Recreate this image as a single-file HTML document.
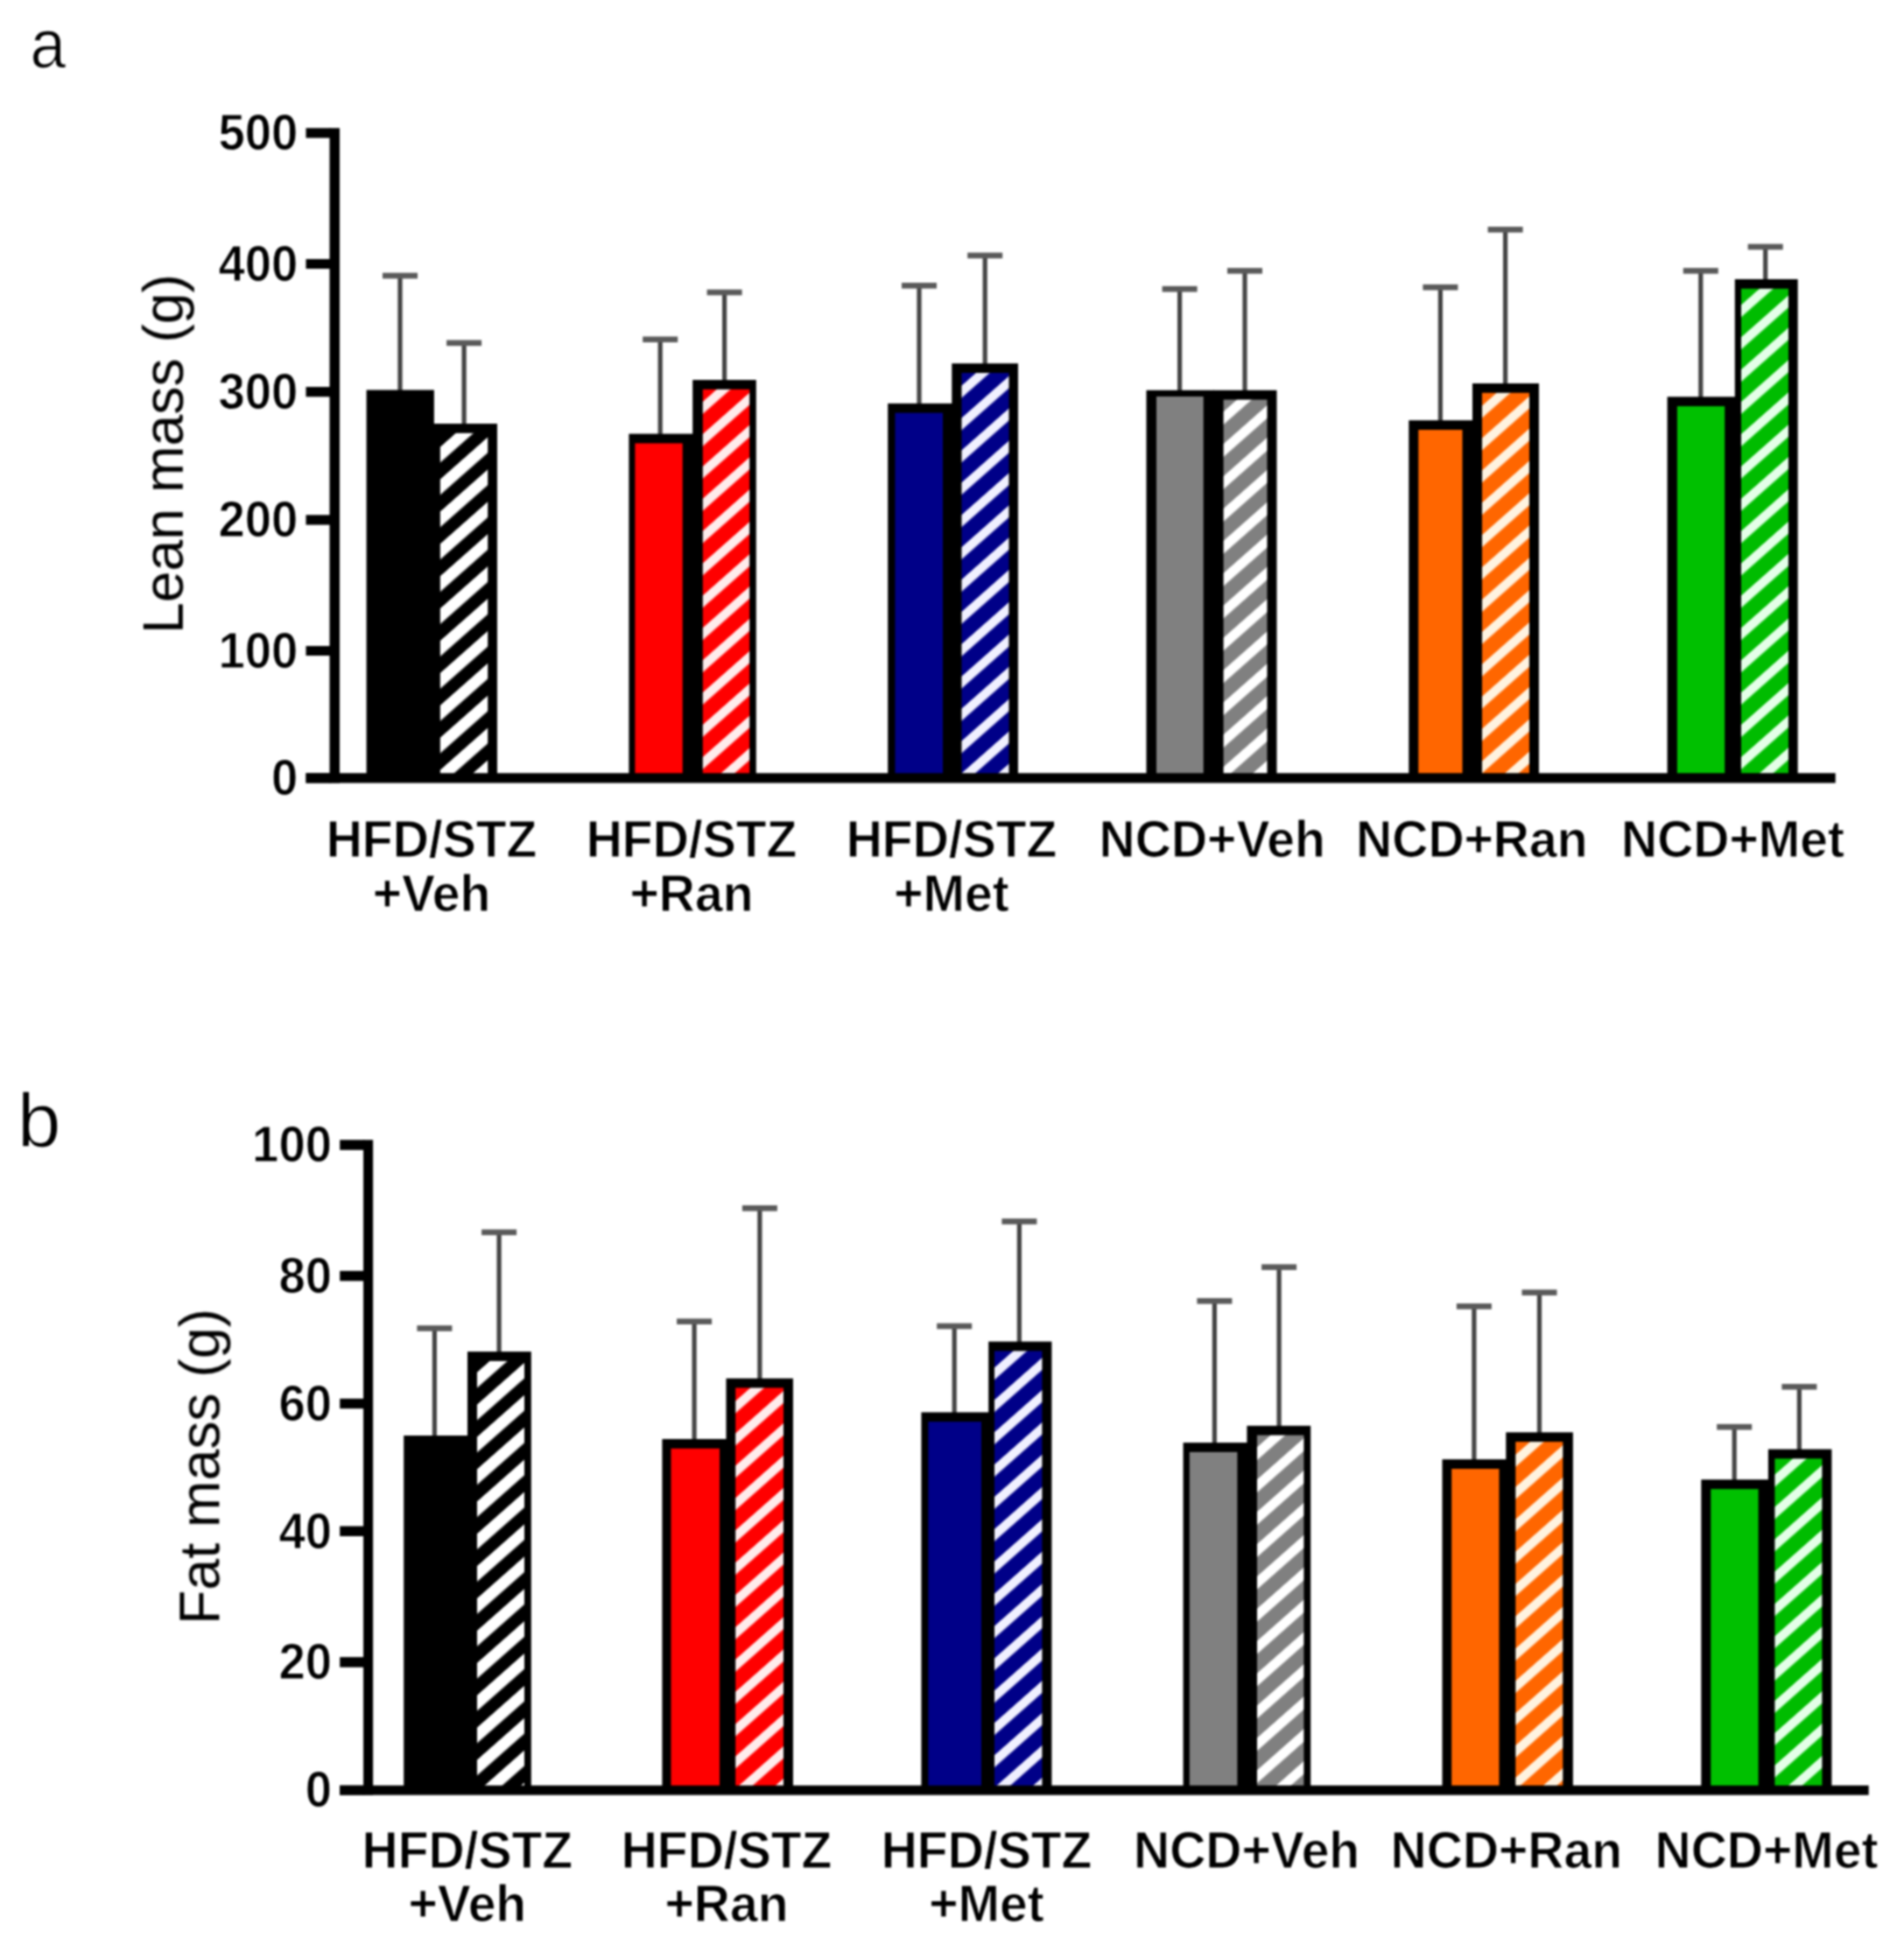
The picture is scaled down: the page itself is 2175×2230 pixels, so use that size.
<!DOCTYPE html>
<html lang="en"><head><meta charset="utf-8"><title>Lean mass and fat mass</title>
<style>html,body{margin:0;padding:0;background:#fff;width:2175px;height:2230px;overflow:hidden}svg{display:block}text{font-family:"Liberation Sans",sans-serif;fill:#000}.tk{font-weight:bold;font-size:54.5px;text-anchor:end;stroke:#fff;stroke-width:0.9px}.xl{font-weight:bold;font-size:57px;text-anchor:middle;stroke:#fff;stroke-width:0.9px}.yt{font-size:64.3px;text-anchor:middle}.pl{font-size:75px;stroke:#fff;stroke-width:1.1px}</style></head><body>
<svg width="2175" height="2230" viewBox="0 0 2175 2230">
<rect width="2175" height="2230" fill="#fff"/>
<defs><pattern id="ha0" patternUnits="userSpaceOnUse" width="27.636" height="27.636" patternTransform="translate(0 955.53) rotate(-41.5)"><rect width="27.636" height="27.636" fill="#000000"/><rect width="27.636" height="13.33" fill="#ffffff"/></pattern><pattern id="ha1" patternUnits="userSpaceOnUse" width="27.636" height="27.636" patternTransform="translate(0 1169.26) rotate(-41.5)"><rect width="27.636" height="27.636" fill="#ff0000"/><rect width="27.636" height="10.34" fill="#ffecec"/></pattern><pattern id="ha2" patternUnits="userSpaceOnUse" width="27.636" height="27.636" patternTransform="translate(0 1412.47) rotate(-41.5)"><rect width="27.636" height="27.636" fill="#000088"/><rect width="27.636" height="10.34" fill="#f0f0ff"/></pattern><pattern id="ha3" patternUnits="userSpaceOnUse" width="27.636" height="27.636" patternTransform="translate(0 1706.79) rotate(-41.5)"><rect width="27.636" height="27.636" fill="#808080"/><rect width="27.636" height="11.08" fill="#ffffff"/></pattern><pattern id="ha4" patternUnits="userSpaceOnUse" width="27.636" height="27.636" patternTransform="translate(0 1961.44) rotate(-41.5)"><rect width="27.636" height="27.636" fill="#ff6600"/><rect width="27.636" height="10.34" fill="#fff3e0"/></pattern><pattern id="ha5" patternUnits="userSpaceOnUse" width="27.636" height="27.636" patternTransform="translate(0 2108.12) rotate(-41.5)"><rect width="27.636" height="27.636" fill="#00bc00"/><rect width="27.636" height="10.34" fill="#e4ffe8"/></pattern><pattern id="hb0" patternUnits="userSpaceOnUse" width="27.636" height="27.636" patternTransform="translate(0 2049.88) rotate(-41.5)"><rect width="27.636" height="27.636" fill="#000000"/><rect width="27.636" height="13.33" fill="#ffffff"/></pattern><pattern id="hb1" patternUnits="userSpaceOnUse" width="27.636" height="27.636" patternTransform="translate(0 2343.95) rotate(-41.5)"><rect width="27.636" height="27.636" fill="#ff0000"/><rect width="27.636" height="10.34" fill="#ffecec"/></pattern><pattern id="hb2" patternUnits="userSpaceOnUse" width="27.636" height="27.636" patternTransform="translate(0 2567.45) rotate(-41.5)"><rect width="27.636" height="27.636" fill="#000088"/><rect width="27.636" height="10.34" fill="#f0f0ff"/></pattern><pattern id="hb3" patternUnits="userSpaceOnUse" width="27.636" height="27.636" patternTransform="translate(0 2923.77) rotate(-41.5)"><rect width="27.636" height="27.636" fill="#808080"/><rect width="27.636" height="11.08" fill="#ffffff"/></pattern><pattern id="hb4" patternUnits="userSpaceOnUse" width="27.636" height="27.636" patternTransform="translate(0 3193.62) rotate(-41.5)"><rect width="27.636" height="27.636" fill="#ff6600"/><rect width="27.636" height="10.34" fill="#fff3e0"/></pattern><pattern id="hb5" patternUnits="userSpaceOnUse" width="27.636" height="27.636" patternTransform="translate(0 3478.39) rotate(-41.5)"><rect width="27.636" height="27.636" fill="#00bc00"/><rect width="27.636" height="10.34" fill="#e4ffe8"/></pattern></defs>
<g style="filter:blur(1.2px)">
<g id="panel-a">
<rect x="454.4" y="315" width="5.2" height="132.5" fill="#444"/>
<rect x="437" y="311.7" width="40" height="6.6" fill="#5a5a5a"/>
<rect x="527.5" y="391.8" width="5.2" height="94.2" fill="#444"/>
<rect x="510.1" y="388.5" width="40" height="6.6" fill="#5a5a5a"/>
<rect x="418.6" y="445.5" width="77.3" height="439.7" fill="#000"/>
<rect x="494.9" y="484" width="73.1" height="401.2" fill="#000"/>
<rect x="502.9" y="494.8" width="54.3" height="390.4" fill="url(#ha0)"/>
<text class="xl" transform="translate(493 978.8) scale(1 1.05)">HFD/STZ</text>
<text class="xl" transform="translate(493 1041) scale(1 1.05)">+Veh</text>
<rect x="751.6" y="387.8" width="5.2" height="109.8" fill="#444"/>
<rect x="734.2" y="384.5" width="40" height="6.6" fill="#5a5a5a"/>
<rect x="825" y="334" width="5.2" height="102" fill="#444"/>
<rect x="807.6" y="330.7" width="40" height="6.6" fill="#5a5a5a"/>
<rect x="718.4" y="495.6" width="73.8" height="389.6" fill="#000"/>
<rect x="725.4" y="506.4" width="54.3" height="378.8" fill="#ff0000"/>
<rect x="791.2" y="434" width="72.6" height="451.2" fill="#000"/>
<rect x="802.8" y="444.8" width="53.4" height="440.4" fill="url(#ha1)"/>
<text class="xl" transform="translate(790 978.8) scale(1 1.05)">HFD/STZ</text>
<text class="xl" transform="translate(790 1041) scale(1 1.05)">+Ran</text>
<rect x="1047.4" y="326.3" width="5.2" height="136.6" fill="#444"/>
<rect x="1030" y="323" width="40" height="6.6" fill="#5a5a5a"/>
<rect x="1122.6" y="291.9" width="5.2" height="125.3" fill="#444"/>
<rect x="1105.2" y="288.6" width="40" height="6.6" fill="#5a5a5a"/>
<rect x="1014.2" y="460.9" width="74.1" height="424.3" fill="#000"/>
<rect x="1022.5" y="471.7" width="54.5" height="413.5" fill="#000088"/>
<rect x="1087.3" y="415.2" width="75.7" height="470" fill="#000"/>
<rect x="1098.5" y="426" width="54" height="459.2" fill="url(#ha2)"/>
<text class="xl" transform="translate(1087 978.8) scale(1 1.05)">HFD/STZ</text>
<text class="xl" transform="translate(1087 1041) scale(1 1.05)">+Met</text>
<rect x="1345" y="330.2" width="5.2" height="117.6" fill="#444"/>
<rect x="1327.6" y="326.9" width="40" height="6.6" fill="#5a5a5a"/>
<rect x="1419.4" y="309.4" width="5.2" height="138.4" fill="#444"/>
<rect x="1402" y="306.1" width="40" height="6.6" fill="#5a5a5a"/>
<rect x="1309.5" y="445.8" width="77.5" height="439.4" fill="#000"/>
<rect x="1321" y="453" width="53.7" height="432.2" fill="#808080"/>
<rect x="1386" y="445.8" width="72.5" height="439.4" fill="#000"/>
<rect x="1397.6" y="456.6" width="49.9" height="428.6" fill="url(#ha3)"/>
<text class="xl" transform="translate(1384.7 978.8) scale(1 1.05)">NCD+Veh</text>
<rect x="1642.8" y="328.2" width="5.2" height="154" fill="#444"/>
<rect x="1625.4" y="324.9" width="40" height="6.6" fill="#5a5a5a"/>
<rect x="1717" y="262.3" width="5.2" height="177.7" fill="#444"/>
<rect x="1699.6" y="259" width="40" height="6.6" fill="#5a5a5a"/>
<rect x="1609.3" y="480.2" width="73.7" height="405" fill="#000"/>
<rect x="1620.3" y="491" width="50.2" height="394.2" fill="#ff6600"/>
<rect x="1682" y="438" width="76" height="447.2" fill="#000"/>
<rect x="1693" y="448.8" width="54" height="436.4" fill="url(#ha4)"/>
<text class="xl" transform="translate(1681.3 978.8) scale(1 1.05)">NCD+Ran</text>
<rect x="1940.2" y="309.4" width="5.2" height="145.9" fill="#444"/>
<rect x="1922.8" y="306.1" width="40" height="6.6" fill="#5a5a5a"/>
<rect x="2014.1" y="282" width="5.2" height="39" fill="#444"/>
<rect x="1996.7" y="278.7" width="40" height="6.6" fill="#5a5a5a"/>
<rect x="1904.6" y="453.3" width="78.2" height="431.9" fill="#000"/>
<rect x="1915.9" y="464.1" width="54.3" height="421.1" fill="#00c000"/>
<rect x="1981.8" y="319" width="71.9" height="566.2" fill="#000"/>
<rect x="1989" y="329.8" width="54" height="555.4" fill="url(#ha5)"/>
<text class="xl" transform="translate(1979.5 978.8) scale(1 1.05)">NCD+Met</text>
<rect x="376.5" y="146.3" width="11.5" height="748.2" fill="#000"/>
<rect x="349.5" y="883.2" width="1747.2" height="11.3" fill="#000"/>
<rect x="349.5" y="146.3" width="28" height="11.3" fill="#000"/>
<text class="tk" transform="translate(340.3 171.1) scale(1 1.06)">500</text>
<rect x="349.5" y="296" width="28" height="11" fill="#000"/>
<text class="tk" transform="translate(340.3 320.7) scale(1 1.06)">400</text>
<rect x="349.5" y="442" width="28" height="11.3" fill="#000"/>
<text class="tk" transform="translate(340.3 466.8) scale(1 1.06)">300</text>
<rect x="349.5" y="588.3" width="28" height="11.3" fill="#000"/>
<text class="tk" transform="translate(340.3 613.2) scale(1 1.06)">200</text>
<rect x="349.5" y="738" width="28" height="11" fill="#000"/>
<text class="tk" transform="translate(340.3 762.7) scale(1 1.06)">100</text>
<rect x="349.5" y="883.2" width="28" height="11.3" fill="#000"/>
<text class="tk" transform="translate(340.3 908.1) scale(1 1.06)">0</text>
<text class="yt" transform="translate(208.8 518.5) rotate(-90)">Lean mass (g)</text>
<text class="pl" style="font-size:77px" transform="translate(34.6 77.2) scale(0.95 1)">a</text>
</g>
<g id="panel-b">
<rect x="493.8" y="1517.5" width="5.2" height="124.5" fill="#444"/>
<rect x="476.4" y="1514.2" width="40" height="6.6" fill="#5a5a5a"/>
<rect x="567.5" y="1407.8" width="5.2" height="138.3" fill="#444"/>
<rect x="550.1" y="1404.5" width="40" height="6.6" fill="#5a5a5a"/>
<rect x="461.2" y="1640" width="73.8" height="401.7" fill="#000"/>
<rect x="534" y="1544.1" width="72.8" height="497.6" fill="#000"/>
<rect x="545" y="1554.9" width="54" height="486.8" fill="url(#hb0)"/>
<text class="xl" transform="translate(533.8 2133.5) scale(1 1.05)">HFD/STZ</text>
<text class="xl" transform="translate(533.8 2195.4) scale(1 1.05)">+Veh</text>
<rect x="790.5" y="1509.7" width="5.2" height="136.3" fill="#444"/>
<rect x="773.1" y="1506.4" width="40" height="6.6" fill="#5a5a5a"/>
<rect x="865.3" y="1380.3" width="5.2" height="196.4" fill="#444"/>
<rect x="847.9" y="1377" width="40" height="6.6" fill="#5a5a5a"/>
<rect x="756.4" y="1644" width="74.1" height="397.7" fill="#000"/>
<rect x="766.5" y="1654.8" width="55.5" height="386.9" fill="#ff0000"/>
<rect x="829.5" y="1574.7" width="76.5" height="467" fill="#000"/>
<rect x="840.2" y="1585.5" width="54.8" height="456.2" fill="url(#hb1)"/>
<text class="xl" transform="translate(830 2133.5) scale(1 1.05)">HFD/STZ</text>
<text class="xl" transform="translate(830 2195.4) scale(1 1.05)">+Ran</text>
<rect x="1087.6" y="1515" width="5.2" height="100.4" fill="#444"/>
<rect x="1070.2" y="1511.7" width="40" height="6.6" fill="#5a5a5a"/>
<rect x="1161.8" y="1395.4" width="5.2" height="139.2" fill="#444"/>
<rect x="1144.4" y="1392.1" width="40" height="6.6" fill="#5a5a5a"/>
<rect x="1052.4" y="1613.4" width="77.8" height="428.3" fill="#000"/>
<rect x="1060.4" y="1624.2" width="60.6" height="417.5" fill="#000088"/>
<rect x="1129.2" y="1532.6" width="72.2" height="509.1" fill="#000"/>
<rect x="1136" y="1543.4" width="54.4" height="498.3" fill="url(#hb2)"/>
<text class="xl" transform="translate(1127 2133.5) scale(1 1.05)">HFD/STZ</text>
<text class="xl" transform="translate(1127 2195.4) scale(1 1.05)">+Met</text>
<rect x="1384.8" y="1486.3" width="5.2" height="163.8" fill="#444"/>
<rect x="1367.4" y="1483" width="40" height="6.6" fill="#5a5a5a"/>
<rect x="1458.5" y="1447.6" width="5.2" height="183.2" fill="#444"/>
<rect x="1441.1" y="1444.3" width="40" height="6.6" fill="#5a5a5a"/>
<rect x="1351.6" y="1648.1" width="73.8" height="393.6" fill="#000"/>
<rect x="1358.8" y="1658.9" width="54.6" height="382.8" fill="#808080"/>
<rect x="1424.4" y="1628.8" width="72.8" height="412.9" fill="#000"/>
<rect x="1436" y="1639.6" width="53.4" height="402.1" fill="url(#hb3)"/>
<text class="xl" transform="translate(1424.1 2133.5) scale(1 1.05)">NCD+Veh</text>
<rect x="1681.3" y="1492.4" width="5.2" height="176.8" fill="#444"/>
<rect x="1663.9" y="1489.1" width="40" height="6.6" fill="#5a5a5a"/>
<rect x="1755.9" y="1476.6" width="5.2" height="161.7" fill="#444"/>
<rect x="1738.5" y="1473.3" width="40" height="6.6" fill="#5a5a5a"/>
<rect x="1647.5" y="1667.2" width="73.8" height="374.5" fill="#000"/>
<rect x="1658.2" y="1678" width="54.3" height="363.7" fill="#ff6600"/>
<rect x="1720.3" y="1636.3" width="76.6" height="405.4" fill="#000"/>
<rect x="1731.3" y="1647.1" width="54" height="394.6" fill="url(#hb4)"/>
<text class="xl" transform="translate(1720.8 2133.5) scale(1 1.05)">NCD+Ran</text>
<rect x="1978.6" y="1630.2" width="5.2" height="62.1" fill="#444"/>
<rect x="1961.2" y="1626.9" width="40" height="6.6" fill="#5a5a5a"/>
<rect x="2052.8" y="1584.3" width="5.2" height="73.3" fill="#444"/>
<rect x="2035.4" y="1581" width="40" height="6.6" fill="#5a5a5a"/>
<rect x="1943.3" y="1690.3" width="77.6" height="351.4" fill="#000"/>
<rect x="1954.3" y="1701.1" width="54.3" height="340.6" fill="#00c000"/>
<rect x="2019.9" y="1655.6" width="72.5" height="386.1" fill="#000"/>
<rect x="2027.4" y="1666.4" width="54" height="375.3" fill="url(#hb5)"/>
<text class="xl" transform="translate(2018 2133.5) scale(1 1.05)">NCD+Met</text>
<rect x="415.1" y="1302.2" width="11" height="748.5" fill="#000"/>
<rect x="388.2" y="2039.7" width="1746.5" height="11" fill="#000"/>
<rect x="388.2" y="1302.2" width="27.9" height="11.6" fill="#000"/>
<text class="tk" transform="translate(379 1327.2) scale(1 1.06)">100</text>
<rect x="388.2" y="1451.9" width="27.9" height="11.5" fill="#000"/>
<text class="tk" transform="translate(379 1476.9) scale(1 1.06)">80</text>
<rect x="388.2" y="1597.8" width="27.9" height="11.4" fill="#000"/>
<text class="tk" transform="translate(379 1622.7) scale(1 1.06)">60</text>
<rect x="388.2" y="1743.5" width="27.9" height="11.5" fill="#000"/>
<text class="tk" transform="translate(379 1768.5) scale(1 1.06)">40</text>
<rect x="388.2" y="1893.1" width="27.9" height="11.6" fill="#000"/>
<text class="tk" transform="translate(379 1918.1) scale(1 1.06)">20</text>
<rect x="388.2" y="2039.7" width="27.9" height="11" fill="#000"/>
<text class="tk" transform="translate(379 2064.4) scale(1 1.06)">0</text>
<text class="yt" transform="translate(250.4 1675.4) rotate(-90)">Fat mass (g)</text>
<text class="pl" style="font-size:87px" transform="translate(19.8 1309.6) scale(1.03 1)">b</text>
</g>
</g>
</svg></body></html>
